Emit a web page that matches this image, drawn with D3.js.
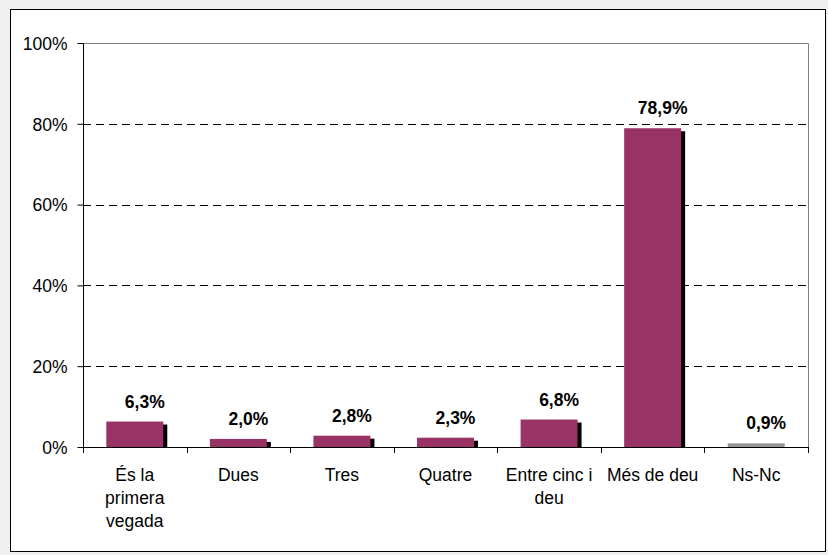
<!DOCTYPE html>
<html><head><meta charset="utf-8">
<script src="https://cdn.jsdelivr.net/npm/d3@7"></script>
<style>
html,body{margin:0;padding:0;background:#f0f0f0;}
svg{display:block;}
text{font-family:Arial,"Liberation Sans",sans-serif;}
</style></head>
<body>
<svg id="c" width="828" height="555"></svg>
<script>
const categories = [["És la","primera","vegada"],["Dues"],["Tres"],["Quatre"],["Entre cinc i","deu"],["Més de deu"],["Ns-Nc"]];
const values = [6.3, 2.0, 2.8, 2.3, 6.8, 78.9, 0.9];
const valueLabels = ["6,3%","2,0%","2,8%","2,3%","6,8%","78,9%","0,9%"];
const barColors = ["#993366","#993366","#993366","#993366","#993366","#993366","#969696"];
const hasShadow = [true,true,true,true,true,true,false];
const yTicks = [0,20,40,60,80,100];

const svg = d3.select("#c");
svg.append("rect").attr("x",10.5).attr("y",9.5).attr("width",815).attr("height",542)
  .attr("fill","#fff").attr("stroke","#000").attr("stroke-width",1);

const m = {l:83, r:808, t:43, b:447};
const x = d3.scaleBand().domain(d3.range(categories.length)).range([m.l,m.r]).paddingInner(0).paddingOuter(0);
const y = d3.scaleLinear().domain([0,100]).range([m.b,m.t]);

// gridlines
svg.append("g").selectAll("line").data(yTicks.filter(t=>t>0&&t<100)).join("line")
  .attr("x1",m.l).attr("x2",m.r).attr("y1",d=>Math.round(y(d))+0.5).attr("y2",d=>Math.round(y(d))+0.5)
  .attr("stroke","#000").attr("stroke-dasharray","8,5").attr("stroke-width",1);
// plot frame top/right (gray)
svg.append("path").attr("d",`M${m.l},${m.t+0.5}H${m.r+0.5}V${m.b}`)
  .attr("fill","none").attr("stroke","#808080").attr("stroke-width",1);

const bw = x.bandwidth()*0.55;
const off = (x.bandwidth()-bw)/2;
// shadows
svg.append("g").selectAll("rect").data(values.map((v,i)=>({v,i})).filter(d=>hasShadow[d.i])).join("rect")
  .attr("x",d=>x(d.i)+off+4).attr("y",d=>y(d.v)+3).attr("width",bw).attr("height",d=>m.b-y(d.v)-3)
  .attr("fill","#000");
// bars
svg.append("g").selectAll("rect").data(values).join("rect")
  .attr("x",(d,i)=>x(i)+off).attr("y",d=>y(d)).attr("width",bw).attr("height",d=>m.b-y(d))
  .attr("fill",(d,i)=>barColors[i]);
// value labels
svg.append("g").selectAll("text").data(values).join("text")
  .attr("x",(d,i)=>x(i)+x.bandwidth()/2+10).attr("y",d=>y(d)-14)
  .attr("text-anchor","middle").attr("font-size","17.5px").attr("font-weight","bold").attr("fill","#000")
  .text((d,i)=>valueLabels[i]);

// y axis
const ya = d3.axisLeft(y).tickValues(yTicks).tickFormat(d=>d+"%").tickSize(6).tickPadding(10);
const yg = svg.append("g").attr("transform",`translate(${m.l+0.5},0)`).call(ya);
yg.select(".domain").attr("d",`M0,${m.t}V${m.b}`).attr("stroke","#000");
yg.selectAll("text").attr("font-size","17.5px").attr("font-family","Arial, 'Liberation Sans', sans-serif").attr("fill","#000").attr("dy","0.36em");
yg.selectAll(".tick line").attr("stroke","#000");

// x axis
svg.append("line").attr("x1",m.l).attr("x2",m.r+1).attr("y1",m.b+0.5).attr("y2",m.b+0.5).attr("stroke","#000");
const bounds = d3.range(categories.length+1).map(i=>m.l + i*x.step());
svg.append("g").selectAll("line").data(bounds).join("line")
  .attr("x1",d=>Math.round(d)+0.5).attr("x2",d=>Math.round(d)+0.5).attr("y1",m.b).attr("y2",m.b+6).attr("stroke","#000");
const cl = svg.append("g").selectAll("text").data(categories).join("text")
  .attr("x",(d,i)=>x(i)+x.bandwidth()/2).attr("y",481)
  .attr("text-anchor","middle").attr("font-size","17.5px").attr("fill","#000");
cl.selectAll("tspan").data(d=>d).join("tspan")
  .attr("x",function(){return d3.select(this.parentNode).attr("x");})
  .attr("dy",(d,i)=>i===0?0:23).text(d=>d);
</script>
</body></html>
